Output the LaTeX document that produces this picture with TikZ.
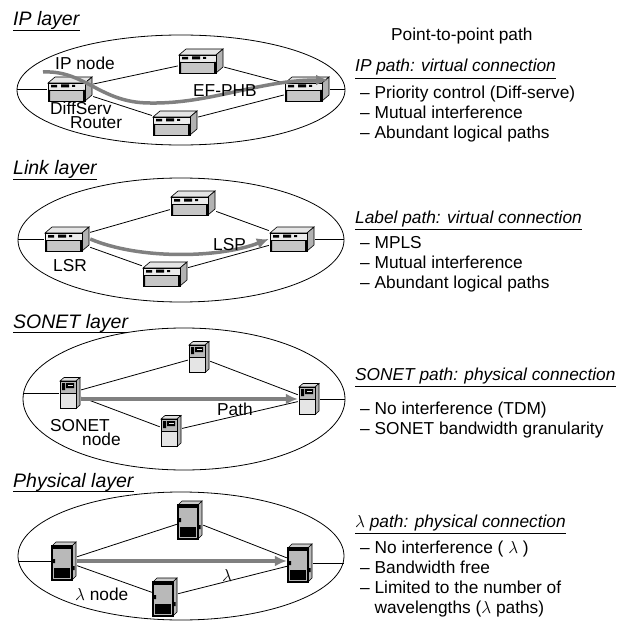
\documentclass[tikz,border=0pt]{standalone}
\usepackage{fontspec}
\setmainfont{Liberation Sans}
\usetikzlibrary{shapes.geometric, arrows.meta}

\tikzset{
    router/.style={minimum width=46pt, minimum height=26pt, inner sep=0pt,
        path picture={
            \begin{scope}[shift={(path picture bounding box.center)}, x=1pt, y=1pt, line width=0.6pt]
                \filldraw[fill=gray!20] (-22,6) -- (15,6) -- (22,12) -- (-15,12) -- cycle;
                \filldraw[fill=gray!60] (15,6) -- (22,12) -- (22,-6) -- (15,-12) -- cycle;
                \filldraw[fill=gray!15] (-22,-1) rectangle (15,6);
                \filldraw[fill=gray!45] (-22,-12) rectangle (15,-1);
                \fill (-22,-12) rectangle (-20,-1) (13,-12) rectangle (15,-1);
                \fill (-19,1.5) rectangle (-13,4) (-9,1.5) rectangle (-1,4.5) (2,2) rectangle (5,4);
            \end{scope}}},
    sonet/.style={minimum width=22pt, minimum height=33pt, inner sep=0pt,
        path picture={
            \begin{scope}[shift={(path picture bounding box.center)}, x=1pt, y=1pt, line width=0.6pt]
                \filldraw[fill=gray!25] (-10,12) -- (6,12) -- (10,15.5) -- (-6,15.5) -- cycle;
                \filldraw[fill=gray!60] (6,12) -- (10,15.5) -- (10,-12) -- (6,-15.5) -- cycle;
                \filldraw[fill=gray!20] (-10,-15.5) rectangle (6,12);
                \filldraw[fill=gray!55] (-10,0) rectangle (6,12);
                \fill (-8,3) rectangle (-5,10) (-4,5) rectangle (4,10);
                \filldraw[fill=gray!20] (-3,6.5) rectangle (3,8.5);
            \end{scope}}},
    oxc/.style={minimum width=26pt, minimum height=40pt, inner sep=0pt,
        path picture={
            \begin{scope}[shift={(path picture bounding box.center)}, x=1pt, y=1pt, line width=0.6pt]
                \filldraw[fill=gray!40] (-12,15) -- (8,15) -- (12,19) -- (-8,19) -- cycle;
                \filldraw[fill=gray!55] (8,15) -- (12,19) -- (12,-15) -- (8,-19) -- cycle;
                \filldraw[fill=gray!55, line width=1.2pt] (-12,-19) rectangle (8,15);
                \fill (-12,12) rectangle (8,15);
                \fill (-10,-17) rectangle (6,-7);
                \fill (-12,-2) rectangle (-9,2) (9,-9) rectangle (10.5,-5);
            \end{scope}}}
}

\begin{document}
\begin{tikzpicture}[x=1pt, y=-1pt,
    layer/.style={ellipse, draw, line width=0.8pt, inner sep=0pt},
    link/.style={line width=0.8pt},
    flow/.style={-{Latex[length=12pt, width=11pt]}, line width=3.5pt, black!50},
    tag/.style={font=\fontsize{17.3}{20}\selectfont, inner sep=0pt, anchor=base west},
    notes/.style={tag, align=left},
    layerhead/.style={font=\fontsize{19.5}{22}\selectfont\itshape, inner sep=0pt, anchor=base west, text depth=4.5pt},
    pathhead/.style={tag, font=\fontsize{17.3}{20}\selectfont\itshape, text depth=6pt}]
    \useasboundingbox (0,0) rectangle (624,623);

    % Layers
    \node[layer, minimum width=328pt, minimum height=110pt] (ipLayer) at (181,90) {};
    \node[layer, minimum width=326pt, minimum height=124pt] (lsLayer) at (181,240) {};
    \node[layer, minimum width=322pt, minimum height=142pt] (soLayer) at (184,399) {};
    \node[layer, minimum width=326pt, minimum height=128pt] (phLayer) at (181,556) {};

    % IP layer
    \node[router] (ipA) at (70,89) {};
    \node[router] (ipB) at (201,61) {};
    \node[router] (ipC) at (175,123) {};
    \node[router] (ipD) at (307,89) {};
    \draw[link] (ipA) edge (ipB) edge (ipC) edge (ipA -| ipLayer.west);
    \draw[link] (ipD) edge (ipB) edge (ipC) edge (ipD -| ipLayer.east);
    \coordinate (ipIn) at (43,72);
    \coordinate (ipOut) at (328,80);
    \draw[flow] (ipIn) .. controls (85,70) and (100,103) .. (150,103)
        .. controls (210,104) and (260,80) .. (ipOut);
    \node[tag] (ipNode) at (55,70) {IP node};
    \node[notes] (ipRouter) at (50,128.5) {DiffServ\\[-6pt]\hspace*{20pt}Router};
    \node[tag] (ipPhb) at (193,97) {EF-PHB};

    % Link layer
    \node[router] (lsA) at (67,239) {};
    \node[router] (lsB) at (193,203) {};
    \node[router] (lsC) at (165,274) {};
    \node[router] (lsD) at (292,239) {};
    \draw[link] (lsA) edge (lsB) edge (lsC) edge (lsA -| lsLayer.west);
    \draw[link] (lsD) edge (lsB) edge (lsC) edge (lsD -| lsLayer.east);
    \draw[flow] (lsA.east) .. controls (140,260) and (220,258) .. (lsD.west);
    \node[tag] (lsr) at (53,271) {LSR};
    \node[tag] (lsp) at (213,250) {LSP};

    % SONET layer
    \node[sonet] (soA) at (70,393) {};
    \node[sonet] (soB) at (199,357) {};
    \node[sonet] (soC) at (171,431) {};
    \node[sonet] (soD) at (309,399) {};
    \draw[link] (soA) edge (soB) edge (soC) edge (soA -| soLayer.west);
    \draw[link] (soD) edge (soB) edge (soC) edge (soD -| soLayer.east);
    \draw[flow] (soA.east |- soD.west) -- (soD.west);
    \node[tag] (soPathTag) at (217,415) {Path};
    \node[notes] (soNode) at (50,445.5) {SONET\\[-6pt]\hspace*{32pt}node};

    % Physical layer
    \node[oxc] (phA) at (64,561) {};
    \node[oxc] (phB) at (190,520) {};
    \node[oxc] (phC) at (165,597) {};
    \node[oxc] (phD) at (300,563) {};
    \draw[link] (phA) edge (phB) edge (phC) edge (phA -| phLayer.west);
    \draw[link] (phD) edge (phB) edge (phC) edge (phD -| phLayer.east);
    \draw[flow] (phA.east) -- (phA.east -| phD.west);
    \node[tag, anchor=base] (phLambda) at (227,581) {$\lambda$};
    \node[tag] (phNode) at (75,600) {$\lambda$ node};

    % Headings
    \node[layerhead] (ipHead) at (13,26) {IP layer};
    \node[layerhead] (lsHead) at (13,175) {Link layer};
    \node[layerhead] (soHead) at (13,328) {SONET layer};
    \node[layerhead] (phHead) at (13,487) {Physical layer};
    \node[tag] (p2p) at (391,41) {Point-to-point path};
    \node[pathhead] (ipPath) at (355,72) {IP path: virtual connection};
    \node[pathhead] (lsPath) at (355,223) {Label path: virtual connection};
    \node[pathhead] (soPath) at (355,380) {SONET path: physical connection};
    \node[pathhead] (phPath) at (355,527) {$\lambda$ path: physical connection};
    \foreach \h in {ipHead, lsHead, soHead, phHead, ipPath, lsPath, soPath, phPath}
        \draw[link] (\h.south west) -- (\h.south east);

    % Properties (anchored on the last line)
    \node[notes] (ipNotes) at (360,139) {– Priority control (Diff-serve)\\– Mutual interference\\– Abundant logical paths};
    \node[notes] (lsNotes) at (360,288) {– MPLS\\– Mutual interference\\– Abundant logical paths};
    \node[notes] (soNotes) at (360,434) {– No interference (TDM)\\– SONET bandwidth granularity};
    \node[notes] (phNotes) at (360,613) {– No interference ( $\lambda$ )\\– Bandwidth free\\– Limited to the number of\\\hphantom{– }wavelengths ($\lambda$ paths)};
\end{tikzpicture}
\end{document}
